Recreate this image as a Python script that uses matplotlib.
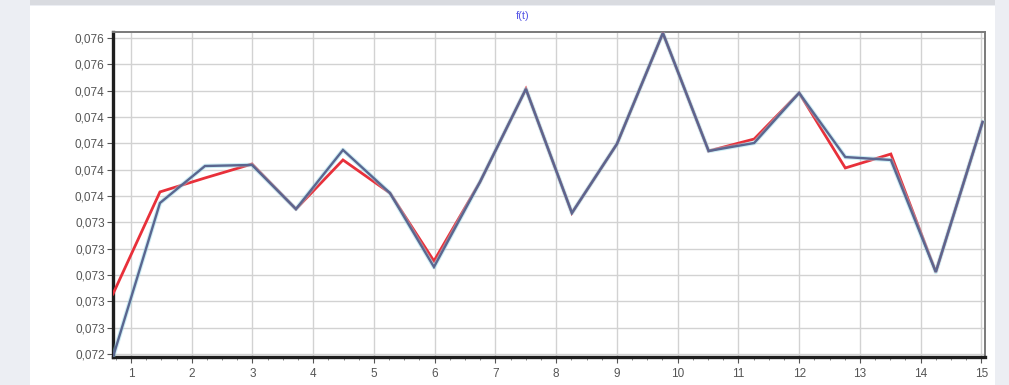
import matplotlib
matplotlib.use("Agg")
import matplotlib.pyplot as plt
from matplotlib.patches import Rectangle
from matplotlib.ticker import FixedLocator, FixedFormatter, MultipleLocator

plt.rcParams["font.family"] = ["Liberation Sans", "DejaVu Sans"]

# Sample positions along t
t_values = [0.704, 1.477, 2.218, 2.992, 3.716, 4.490, 5.263, 5.988, 6.745, 7.502,
            8.259, 9.000, 9.757, 10.51, 11.26, 12.00, 12.76, 13.51, 14.25, 15.02]

# Two f(t) series
f_blue = [0.072377, 0.073547, 0.073828, 0.073836, 0.073501, 0.073950, 0.073623,
          0.073061, 0.073706, 0.074413, 0.073471, 0.073995, 0.074838, 0.073942,
          0.074003, 0.074383, 0.073896, 0.073874, 0.073023, 0.074162]
f_red = [0.072856, 0.073631, 0.073737, 0.073843, 0.073501, 0.073874, 0.073623,
         0.073106, 0.073706, 0.074413, 0.073471, 0.073995, 0.074838, 0.073942,
         0.074033, 0.074383, 0.073813, 0.073919, 0.073023, 0.074162]

x_ticks = list(range(1, 16))
x_tick_labels = [str(v) for v in x_ticks]
y_ticks = [0.0724, 0.0726, 0.0728, 0.0730, 0.0732, 0.0734, 0.0736,
           0.0738, 0.0740, 0.0742, 0.0744, 0.0746, 0.0748]
y_tick_labels = ["0,072", "0,073", "0,073", "0,073", "0,073", "0,073", "0,074",
                 "0,074", "0,074", "0,074", "0,074", "0,076", "0,076"]
title_text = "f(t)"

W, H = 1009, 385
fig = plt.figure(figsize=(W / 100, H / 100), dpi=100, facecolor="#eceef3")

# white panel behind the chart
fig.patches.append(Rectangle((30 / W, 0), 965 / W, 1 - 6 / H, transform=fig.transFigure,
                             facecolor="white", edgecolor="none", zorder=-2))
fig.patches.append(Rectangle((30 / W, 1 - 5 / H), 965 / W, 5 / H, transform=fig.transFigure,
                             facecolor="#d9dbe0", edgecolor="none", zorder=-2))

ax = fig.add_axes([113 / W, (H - 357) / H, (985 - 113) / W, (357 - 32) / H])
ax.set_zorder(1)
ax.set_facecolor("white")

ax.plot(t_values, f_red, color="#e8303a", lw=2.0, zorder=3, solid_joinstyle="miter")
ax.plot(t_values, f_blue, color="#8fd8e8", lw=3.2, alpha=0.45, zorder=4)
ax.plot(t_values, f_blue, color="#5a6690", lw=1.7, zorder=5, solid_joinstyle="miter")

ax.set_xlim(0.704, 15.06)
ax.set_ylim(0.072377, 0.074846)

ax.xaxis.set_major_locator(FixedLocator(x_ticks))
ax.xaxis.set_major_formatter(FixedFormatter(x_tick_labels))
ax.xaxis.set_minor_locator(MultipleLocator(0.25))
ax.yaxis.set_major_locator(FixedLocator(y_ticks))
ax.yaxis.set_major_formatter(FixedFormatter(y_tick_labels))

ax.grid(True, which="major", color="#d2d2d2", lw=1.0, zorder=1)
ax.tick_params(axis="both", which="major", labelsize=8.5, labelcolor="#555555",
               color="#555555", length=4, width=0.8)
ax.tick_params(axis="x", which="minor", length=2, color="#777777", width=0.6)
ax.tick_params(axis="x", pad=4)
ax.tick_params(axis="y", pad=2)

for side in ("left", "bottom"):
    ax.spines[side].set_color("#1e1e1e")
    ax.spines[side].set_linewidth(2.4)
for side in ("top", "right"):
    ax.spines[side].set_color("#7a7a7a")
    ax.spines[side].set_linewidth(1.4)

fig.text(523 / W, 1 - 16 / H, title_text, color="#5a5ae6", fontsize=8,
         ha="center", va="center")

fig.savefig("out.png", dpi=100, facecolor=fig.get_facecolor())
